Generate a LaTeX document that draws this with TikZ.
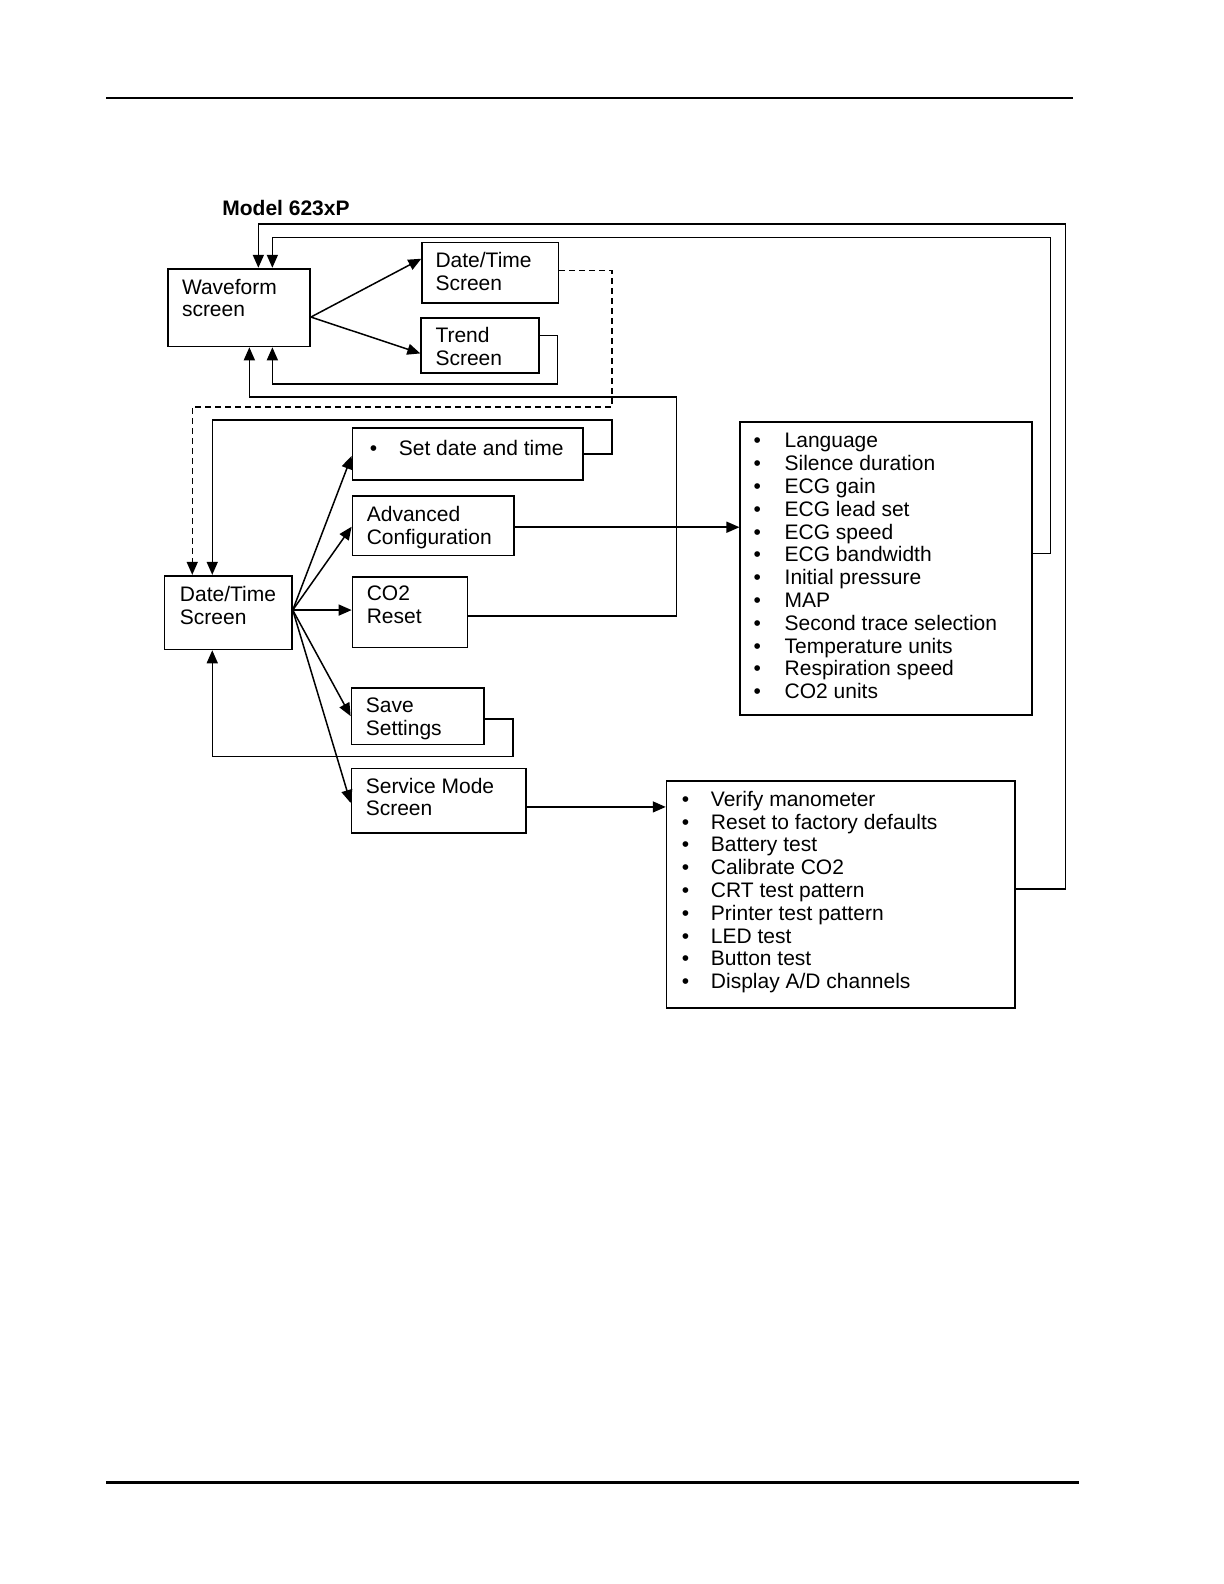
\documentclass[tikz,border=0pt]{standalone}
\usepackage{fontspec}
\setmainfont{Liberation Sans}
\usetikzlibrary{arrows.meta,fit,calc}
\begin{document}
\begin{tikzpicture}[x=1.01pt,y=-1.01pt,
  box/.style={draw, line width=1.7pt, inner sep=0pt, fit={#1}},
  txt/.style={anchor=north west, inner sep=0pt, align=left, font=\fontsize{21}{22.8}\selectfont},
  conn/.style={line width=1.5pt},
  arr/.style={conn, -{Triangle[length=13pt,width=11pt]}},
  dashconn/.style={arr, dash pattern=on 6pt off 4pt},
  rule/.style={line width=2.4pt}]
\useasboundingbox (0,0) rectangle (1211.88,1568.32);
% page rules
\draw[rule] (105,97) -- (1062,97);
\draw[rule] (105,1468) -- (1068,1468);
% title
\node[txt, font=\fontsize{21}{22.8}\selectfont\bfseries] (title) at (220,198) {Model 623xP};
% boxes
\node[box={(166,266)(307,343)}] (wf) {};
\node[box={(418,240)(553,300)}] (dt1) {};
\node[box={(417,315)(534,369)}] (tr) {};
\node[box={(163,570)(289,643)}] (dtl) {};
\node[box={(349,424)(577,475)}] (sd) {};
\node[box={(349,491)(509,550)}] (adv) {};
\node[box={(349,571)(463,641)}] (co2) {};
\node[box={(348,681)(479,737)}] (save) {};
\node[box={(348,761)(521,825)}] (svc) {};
\node[box={(733,418)(1022,708)}] (l1) {};
\node[box={(660,773)(1005,998)}] (l2) {};
% texts
\node[txt] (wft) at (180,276) {Waveform\\screen};
\node[txt] (dt1t) at (431,250) {Date/Time\\Screen};
\node[txt] (trt) at (431,324) {Trend\\Screen};
\node[txt] (dtlt) at (178,580) {Date/Time\\Screen};
\node[txt] (sdt) at (366,436) {\makebox[29pt][l]{\textbullet}Set date and time};
\node[txt] (advt) at (363,501) {Advanced\\Configuration};
\node[txt] (co2t) at (363,580) {CO2\\Reset};
\node[txt] (savet) at (362,691) {Save\\Settings};
\node[txt] (svct) at (362,770) {Service Mode\\Screen};
\node[txt] (l1t) at (746,429) {%
\makebox[31pt][l]{\textbullet}Language\\
\makebox[31pt][l]{\textbullet}Silence duration\\
\makebox[31pt][l]{\textbullet}ECG gain\\
\makebox[31pt][l]{\textbullet}ECG lead set\\
\makebox[31pt][l]{\textbullet}ECG speed\\
\makebox[31pt][l]{\textbullet}ECG bandwidth\\
\makebox[31pt][l]{\textbullet}Initial pressure\\
\makebox[31pt][l]{\textbullet}MAP\\
\makebox[31pt][l]{\textbullet}Second trace selection\\
\makebox[31pt][l]{\textbullet}Temperature units\\
\makebox[31pt][l]{\textbullet}Respiration speed\\
\makebox[31pt][l]{\textbullet}CO2 units};
\node[txt] (l2t) at (675,783) {%
\makebox[29pt][l]{\textbullet}Verify manometer\\
\makebox[29pt][l]{\textbullet}Reset to factory defaults\\
\makebox[29pt][l]{\textbullet}Battery test\\
\makebox[29pt][l]{\textbullet}Calibrate CO2\\
\makebox[29pt][l]{\textbullet}CRT test pattern\\
\makebox[29pt][l]{\textbullet}Printer test pattern\\
\makebox[29pt][l]{\textbullet}LED test\\
\makebox[29pt][l]{\textbullet}Button test\\
\makebox[29pt][l]{\textbullet}Display A/D channels};
% connectors
\coordinate (wfo) at ([yshift=-9.5pt]wf.east);
\draw[arr] (wfo) -- ([yshift=14pt]dt1.west);
\draw[arr] (wfo) -- ([yshift=-8pt]tr.west);
\draw[arr] ([yshift=10pt]tr.east) -| (552,380) -| ([xshift=33.5pt]wf.south);
\draw[arr] ([yshift=-4pt]co2.east) -| (670,393) -| ([xshift=10.5pt]wf.south);
\draw[dashconn] ([yshift=2pt]dt1.east) -| (606,403) -| ([xshift=-36pt]dtl.north);
\draw[arr] (sd.east) -| (606,416) -| ([xshift=-16pt]dtl.north);
\coordinate (dto) at ([yshift=2.5pt]dtl.east);
\draw[arr] (dto) -- ([yshift=-2pt]sd.west);
\draw[arr] (dto) -- ([yshift=-1pt]adv.west);
\draw[arr] (dto) -- (dto -| co2.west);
\draw[arr] (dto) -- (save.west);
\draw[arr] (dto) -- ([yshift=-2pt]svc.west);
\coordinate (advo) at ([yshift=-1.5pt]adv.east);
\draw[arr] (advo) -- (advo -| l1.west);
\coordinate (svco) at ([yshift=-6pt]svc.east);
\draw[arr] (svco) -- (svco -| l2.west);
\draw[arr] ([yshift=15pt]l1.east) -| (1040,235) -| ([xshift=33.5pt]wf.north);
\draw[arr] ([yshift=5.5pt]l2.east) -| (1055,222) -| ([xshift=19.5pt]wf.north);
\draw[arr] ([yshift=-3pt]save.east) -| (508,749) -| ([xshift=-16pt]dtl.south);
\end{tikzpicture}
\end{document}
